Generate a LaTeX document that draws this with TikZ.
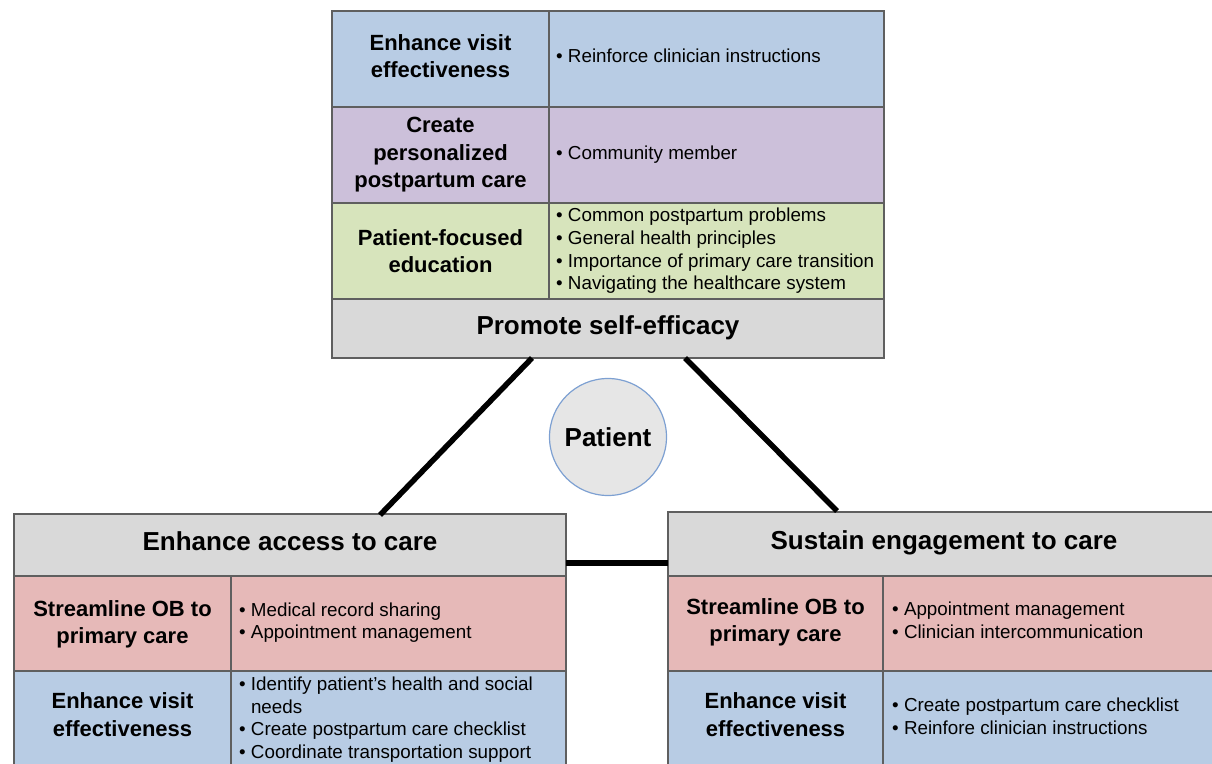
\documentclass[tikz,border=0pt]{standalone}
\usepackage{fontspec}
\setmainfont{Liberation Sans}
\definecolor{cblue}{RGB}{184,204,228}
\definecolor{cpurple}{RGB}{204,192,218}
\definecolor{cgreen}{RGB}{215,228,188}
\definecolor{cred}{RGB}{230,185,184}
\definecolor{cgray}{RGB}{217,217,217}
\definecolor{edgegray}{RGB}{95,95,95}
\definecolor{patfill}{RGB}{230,230,230}
\definecolor{patedge}{RGB}{125,160,210}
\begin{document}
\begin{tikzpicture}[x=1pt,y=-1pt,
  cell/.style={draw=edgegray, line width=1.3pt, anchor=north west, inner sep=0pt, outer sep=0pt},
  lab/.style={font=\fontsize{22}{27.5}\selectfont\bfseries, align=center, inner sep=0pt},
  hdr/.style={font=\fontsize{26}{30}\selectfont\bfseries, inner sep=0pt},
  lst/.style={font=\fontsize{18.8}{22.7}\selectfont, align=left, anchor=west, inner sep=0pt},
  link/.style={line width=5.5pt, black}]
\useasboundingbox (0,0) rectangle (1212,763);
\clip (0,0) rectangle (1212,763);

% ---------- top box ----------
\node[cell, fill=cblue, minimum width=217pt, minimum height=96pt] (t1l) at (332,11) {};
\node[cell, fill=cblue, minimum width=335pt, minimum height=96pt] (t1r) at (549,11) {};
\node[cell, fill=cpurple, minimum width=217pt, minimum height=96pt] (t2l) at (332,107) {};
\node[cell, fill=cpurple, minimum width=335pt, minimum height=96pt] (t2r) at (549,107) {};
\node[cell, fill=cgreen, minimum width=217pt, minimum height=96pt] (t3l) at (332,203) {};
\node[cell, fill=cgreen, minimum width=335pt, minimum height=96pt] (t3r) at (549,203) {};
\node[cell, fill=cgray, minimum width=552pt, minimum height=59pt] (prom) at (332,299) {};

\node[lab] (t1lt) at ([yshift=3pt]t1l.center) {Enhance visit\\effectiveness};
\node[lab] (t2lt) at (t2l.center) {Create\\personalized\\postpartum care};
\node[lab] (t3lt) at (t3l.center) {Patient-focused\\education};
\node[lst] (t1rt) at ([xshift=7pt,yshift=3pt]t1r.west) {• Reinforce clinician instructions};
\node[lst] (t2rt) at ([xshift=7pt]t2r.west) {• Community member};
\node[lst] (t3rt) at ([xshift=7pt]t3r.west) {• Common postpartum problems\\• General health principles\\• Importance of primary care transition\\• Navigating the healthcare system};
\node[hdr] (promt) at ([yshift=1pt]prom.center) {Promote self-efficacy};

% ---------- bottom left box ----------
\node[cell, fill=cgray, minimum width=552pt, minimum height=62pt] (acc) at (14,514) {};
\node[cell, fill=cred, minimum width=217pt, minimum height=95pt] (a1l) at (14,576) {};
\node[cell, fill=cred, minimum width=335pt, minimum height=95pt] (a1r) at (231,576) {};
\node[cell, fill=cblue, minimum width=217pt, minimum height=95pt] (a2l) at (14,671) {};
\node[cell, fill=cblue, minimum width=335pt, minimum height=95pt] (a2r) at (231,671) {};

\node[hdr] (acct) at ([yshift=4pt]acc.center) {Enhance access to care};
\node[lab] (a1lt) at ([yshift=-1pt]a1l.center) {Streamline OB to\\primary care};
\node[lab] (a2lt) at ([yshift=4pt]a2l.center) {Enhance visit\\effectiveness};
\node[lst] (a1rt) at ([xshift=8pt,yshift=1pt]a1r.west) {• Medical record sharing\\• Appointment management};
\node[lst] (a2rt) at ([xshift=8pt,yshift=-1pt]a2r.west) {• Identify patient's health and social\\\phantom{• }needs\\• Create postpartum care checklist\\• Coordinate transportation support};

% ---------- bottom right box ----------
\node[cell, fill=cgray, minimum width=560pt, minimum height=64pt] (sus) at (668,512) {};
\node[cell, fill=cred, minimum width=215pt, minimum height=95pt] (s1l) at (668,576) {};
\node[cell, fill=cred, minimum width=345pt, minimum height=95pt] (s1r) at (883,576) {};
\node[cell, fill=cblue, minimum width=215pt, minimum height=95pt] (s2l) at (668,671) {};
\node[cell, fill=cblue, minimum width=345pt, minimum height=95pt] (s2r) at (883,671) {};

\node[hdr] (sust) at ([xshift=-4pt,yshift=1pt]sus.center) {Sustain engagement to care};
\node[lab] (s1lt) at ([yshift=1pt]s1l.center) {Streamline OB to\\primary care};
\node[lab] (s2lt) at ([yshift=4pt]s2l.center) {Enhance visit\\effectiveness};
\node[lst] (s1rt) at ([xshift=9pt,yshift=3pt]s1r.west) {• Appointment management\\• Clinician intercommunication};
\node[lst] (s2rt) at ([xshift=9pt,yshift=2pt]s2r.west) {• Create postpartum care checklist\\• Reinfore clinician instructions};

% ---------- patient ----------
\node[circle, fill=patfill, draw=patedge, line width=1.2pt, minimum size=117pt, inner sep=0pt,
      font=\fontsize{26}{30}\selectfont\bfseries] (pat) at (608,437) {Patient};

% ---------- connectors ----------
\draw[link] ([xshift=-76pt]prom.south) -- ([xshift=90pt,yshift=-1pt]acc.north);
\draw[link] ([xshift=77pt]prom.south) -- ([xshift=-111pt,yshift=1pt]sus.north);
\draw[link] ([yshift=13pt]acc.south east) -- ([yshift=13pt]sus.south west);
\end{tikzpicture}
\end{document}
